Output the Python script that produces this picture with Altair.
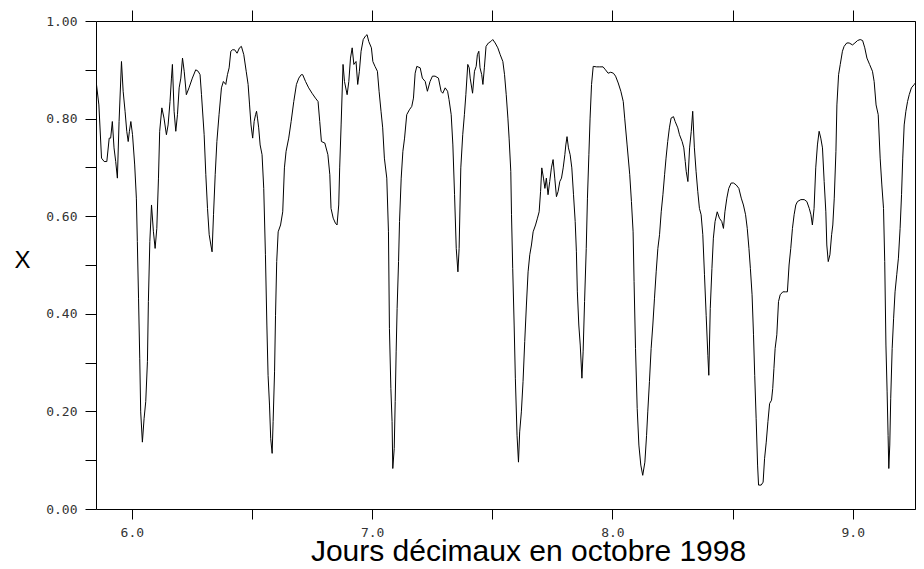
import altair as alt
import pandas as pd

# ---- data (decimal day in Oct 1998, X) ----
seg1_t = [5.853, 5.863, 5.874, 5.885, 5.896, 5.906, 5.912, 5.919, 5.926, 5.933, 5.940, 5.947, 5.957, 5.964,
          5.972, 5.979, 5.985, 5.990, 5.996, 6.003, 6.012, 6.019, 6.023, 6.028, 6.033, 6.037, 6.044, 6.051,
          6.058, 6.065, 6.069, 6.075, 6.082, 6.090, 6.097, 6.104, 6.111, 6.116, 6.125, 6.134, 6.144, 6.151,
          6.159, 6.165, 6.169, 6.176, 6.183, 6.190, 6.197, 6.204, 6.211, 6.218, 6.227, 6.238, 6.252, 6.266,
          6.276, 6.284, 6.290, 6.301, 6.308, 6.315, 6.322, 6.329, 6.334, 6.340, 6.347, 6.354, 6.363, 6.373,
          6.381, 6.391, 6.398, 6.405, 6.412, 6.419]
seg1_x = [0.870, 0.828, 0.719, 0.712, 0.712, 0.760, 0.760, 0.794, 0.740, 0.712, 0.678, 0.794, 0.917, 0.856,
          0.815, 0.774, 0.753, 0.774, 0.794, 0.767, 0.705, 0.637, 0.548, 0.432, 0.309, 0.199, 0.137, 0.185,
          0.220, 0.302, 0.425, 0.548, 0.623, 0.568, 0.534, 0.575, 0.678, 0.774, 0.822, 0.801, 0.767, 0.787,
          0.835, 0.883, 0.911, 0.815, 0.774, 0.808, 0.863, 0.883, 0.924, 0.897, 0.849, 0.863, 0.883, 0.900,
          0.897, 0.890, 0.849, 0.767, 0.685, 0.616, 0.562, 0.541, 0.527, 0.603, 0.685, 0.753, 0.808, 0.863,
          0.876, 0.870, 0.890, 0.904, 0.938, 0.941]

seg2_t = [6.428, 6.438, 6.448, 6.456, 6.466, 6.476, 6.484, 6.490, 6.496, 6.503, 6.509, 6.515, 6.519, 6.523,
          6.528, 6.534, 6.542, 6.549, 6.556, 6.562, 6.567, 6.573, 6.578, 6.584, 6.588, 6.594, 6.598, 6.603,
          6.609, 6.619, 6.628, 6.635, 6.642, 6.653, 6.663, 6.674, 6.685, 6.695, 6.705, 6.711, 6.723, 6.736,
          6.750, 6.764, 6.775, 6.782, 6.789, 6.803, 6.816, 6.824, 6.829, 6.838, 6.847, 6.854, 6.861, 6.865,
          6.871, 6.879, 6.885, 6.896, 6.903, 6.910, 6.917, 6.924, 6.933, 6.940, 6.947, 6.954, 6.963, 6.972,
          6.979, 6.986, 6.997]
seg2_x = [0.941, 0.934, 0.945, 0.948, 0.931, 0.897, 0.870, 0.828, 0.787, 0.760, 0.794, 0.808, 0.815, 0.801,
          0.781, 0.746, 0.726, 0.657, 0.521, 0.377, 0.274, 0.213, 0.144, 0.114, 0.179, 0.281, 0.397, 0.507,
          0.568, 0.582, 0.609, 0.699, 0.733, 0.760, 0.794, 0.835, 0.870, 0.883, 0.890, 0.890, 0.876, 0.863,
          0.852, 0.842, 0.835, 0.794, 0.753, 0.750, 0.726, 0.685, 0.616, 0.596, 0.586, 0.582, 0.623, 0.699,
          0.787, 0.911, 0.876, 0.849, 0.876, 0.924, 0.945, 0.911, 0.917, 0.870, 0.897, 0.938, 0.962, 0.969,
          0.972, 0.958, 0.945]

seg3_t = [7.003, 7.012, 7.022, 7.029, 7.037, 7.044, 7.051, 7.061, 7.068, 7.072, 7.078, 7.083, 7.086, 7.092,
          7.096, 7.100, 7.104, 7.110, 7.114, 7.121, 7.128, 7.135, 7.144, 7.155, 7.165, 7.172, 7.179, 7.186,
          7.200, 7.209, 7.221, 7.230, 7.241, 7.251, 7.262, 7.276, 7.287, 7.294, 7.304, 7.314, 7.320, 7.329,
          7.336, 7.343, 7.350, 7.357, 7.362, 7.369, 7.377, 7.384, 7.390, 7.398, 7.404, 7.408, 7.418, 7.426,
          7.433, 7.438, 7.444, 7.449, 7.456, 7.461, 7.467, 7.474, 7.484, 7.494, 7.502, 7.512, 7.523, 7.533,
          7.544, 7.551, 7.558, 7.565]
seg3_x = [0.917, 0.907, 0.897, 0.856, 0.815, 0.781, 0.719, 0.678, 0.568, 0.370, 0.247, 0.179, 0.083, 0.124,
          0.220, 0.322, 0.411, 0.507, 0.589, 0.678, 0.733, 0.760, 0.808, 0.818, 0.825, 0.842, 0.893, 0.907,
          0.904, 0.883, 0.876, 0.856, 0.876, 0.887, 0.887, 0.883, 0.856, 0.852, 0.863, 0.856, 0.839, 0.808,
          0.746, 0.644, 0.534, 0.486, 0.534, 0.699, 0.767, 0.808, 0.849, 0.911, 0.904, 0.883, 0.852, 0.897,
          0.907, 0.931, 0.938, 0.904, 0.890, 0.870, 0.904, 0.948, 0.955, 0.958, 0.962, 0.955, 0.945, 0.931,
          0.917, 0.890, 0.849, 0.801]

seg4_t = [7.570, 7.577, 7.580, 7.585, 7.591, 7.596, 7.603, 7.609, 7.614, 7.621, 7.628, 7.635, 7.642, 7.649,
          7.656, 7.663, 7.670, 7.680, 7.688, 7.695, 7.701, 7.706, 7.713, 7.719, 7.725, 7.732, 7.739, 7.746,
          7.753, 7.760, 7.767, 7.774, 7.781, 7.788, 7.795, 7.802, 7.806, 7.811, 7.817, 7.824, 7.831, 7.838,
          7.845, 7.850, 7.854, 7.860, 7.866, 7.873, 7.878, 7.884, 7.891, 7.896, 7.902, 7.907, 7.913, 7.920,
          7.934, 7.947, 7.961, 7.971, 7.982, 7.993, 8.004, 8.013, 8.024, 8.035, 8.045, 8.051, 8.061, 8.072,
          8.079, 8.086, 8.090, 8.096, 8.103, 8.110, 8.118, 8.126, 8.135, 8.142]
seg4_x = [0.760, 0.692, 0.603, 0.493, 0.377, 0.268, 0.151, 0.096, 0.158, 0.199, 0.261, 0.343, 0.418, 0.486,
          0.521, 0.541, 0.568, 0.582, 0.596, 0.609, 0.651, 0.699, 0.678, 0.657, 0.678, 0.644, 0.671, 0.699,
          0.716, 0.678, 0.640, 0.651, 0.671, 0.678, 0.699, 0.726, 0.746, 0.763, 0.740, 0.726, 0.699, 0.644,
          0.589, 0.527, 0.445, 0.377, 0.336, 0.268, 0.322, 0.425, 0.534, 0.637, 0.726, 0.801, 0.870, 0.907,
          0.906, 0.906, 0.906, 0.900, 0.893, 0.895, 0.893, 0.887, 0.873, 0.856, 0.835, 0.801, 0.746, 0.685,
          0.630, 0.568, 0.466, 0.329, 0.206, 0.131, 0.090, 0.069, 0.096, 0.151]

seg5_t = [8.147, 8.154, 8.161, 8.168, 8.175, 8.182, 8.189, 8.196, 8.203, 8.210, 8.217, 8.223, 8.230, 8.237,
          8.244, 8.254, 8.261, 8.272, 8.279, 8.290, 8.297, 8.303, 8.307, 8.314, 8.321, 8.328, 8.334, 8.341,
          8.348, 8.355, 8.362, 8.369, 8.376, 8.383, 8.390, 8.397, 8.401, 8.407, 8.414, 8.420, 8.427, 8.436,
          8.445, 8.455, 8.462, 8.468, 8.476, 8.484, 8.494, 8.504, 8.515, 8.526, 8.536, 8.545, 8.554, 8.561,
          8.568, 8.574, 8.581, 8.587, 8.592, 8.598, 8.604, 8.608, 8.619, 8.627, 8.633, 8.640, 8.647, 8.654,
          8.662, 8.667, 8.672, 8.677, 8.684, 8.691, 8.698, 8.709, 8.720]
seg5_x = [0.199, 0.261, 0.329, 0.377, 0.432, 0.486, 0.534, 0.562, 0.609, 0.644, 0.685, 0.719, 0.753, 0.781,
          0.801, 0.804, 0.794, 0.781, 0.767, 0.753, 0.740, 0.712, 0.692, 0.671, 0.740, 0.774, 0.815, 0.740,
          0.692, 0.651, 0.616, 0.603, 0.562, 0.480, 0.397, 0.315, 0.274, 0.411, 0.493, 0.555, 0.589, 0.609,
          0.596, 0.589, 0.575, 0.609, 0.637, 0.657, 0.668, 0.668, 0.664, 0.657, 0.637, 0.623, 0.603, 0.575,
          0.534, 0.493, 0.439, 0.357, 0.274, 0.185, 0.090, 0.049, 0.049, 0.055, 0.103, 0.137, 0.179, 0.216,
          0.223, 0.247, 0.288, 0.329, 0.357, 0.425, 0.439, 0.445, 0.445]

seg6_t = [8.728, 8.735, 8.742, 8.749, 8.756, 8.763, 8.770, 8.784, 8.798, 8.809, 8.819, 8.826, 8.832, 8.839,
          8.846, 8.853, 8.860, 8.867, 8.874, 8.881, 8.888, 8.892, 8.898, 8.905, 8.912, 8.917, 8.923, 8.930,
          8.934, 8.941, 8.948, 8.957, 8.964, 8.975, 8.985, 8.999, 9.009, 9.020, 9.031, 9.041, 9.050, 9.059,
          9.070, 9.082, 9.089, 9.097, 9.106, 9.114, 9.121, 9.128, 9.133, 9.138, 9.143, 9.147, 9.150, 9.154,
          9.158, 9.164, 9.170, 9.176, 9.183, 9.190, 9.197, 9.203, 9.208, 9.214, 9.221, 9.228, 9.235, 9.244,
          9.256, 9.265, 9.272, 9.281, 9.287, 9.292]
seg6_x = [0.445, 0.500, 0.534, 0.575, 0.603, 0.623, 0.630, 0.634, 0.634, 0.630, 0.616, 0.603, 0.582, 0.616,
          0.699, 0.746, 0.774, 0.760, 0.740, 0.671, 0.609, 0.541, 0.507, 0.521, 0.562, 0.582, 0.637, 0.733,
          0.828, 0.890, 0.911, 0.938, 0.948, 0.955, 0.955, 0.951, 0.955, 0.960, 0.962, 0.960, 0.945, 0.924,
          0.911, 0.897, 0.876, 0.828, 0.808, 0.719, 0.664, 0.616, 0.507, 0.336, 0.240, 0.151, 0.083, 0.131,
          0.227, 0.329, 0.391, 0.445, 0.480, 0.514, 0.575, 0.644, 0.719, 0.787, 0.815, 0.835, 0.849, 0.863,
          0.870, 0.876, 0.880, 0.897, 0.917, 0.930]

x_domain = [5.851, 9.259]
y_domain = [0.0, 1.0]
x_tick_values = [6.0, 6.5, 7.0, 7.5, 8.0, 8.5, 9.0]
y_tick_values = [0.0, 0.1, 0.2, 0.3, 0.4, 0.5, 0.6, 0.7, 0.8, 0.9, 1.0]
x_title = "Jours décimaux en octobre 1998"
y_title = "X"

t_all = seg1_t + seg2_t + seg3_t + seg4_t + seg5_t + seg6_t
x_all = seg1_x + seg2_x + seg3_x + seg4_x + seg5_x + seg6_x
df = pd.DataFrame({"t": t_all, "x": x_all})

x_scale = alt.Scale(domain=x_domain, nice=False, zero=False)
y_scale = alt.Scale(domain=y_domain, nice=False, zero=True)

LABEL_FONT = "DejaVu Sans Mono"
TITLE_FONT = "Liberation Sans"

main = alt.Chart(df).mark_line(color="black", strokeWidth=1, clip=True).encode(
    x=alt.X("t:Q", scale=x_scale, axis=alt.Axis(
        orient="bottom", values=x_tick_values,
        labelExpr="datum.value % 1 == 0 ? format(datum.value, '.1f') : ''",
        tickSize=10, labelPadding=7, labelFont=LABEL_FONT, labelFontSize=13,
        labelColor="#333333", labelFlush=False,
        title=x_title, titleFont=TITLE_FONT, titleFontSize=30, titleFontWeight="normal",
        titleColor="black", titleX=432, titleY=51, titleAlign="center",
        titleBaseline="alphabetic")),
    y=alt.Y("x:Q", scale=y_scale, axis=alt.Axis(
        orient="left", values=y_tick_values,
        labelExpr="round(datum.value * 10) % 2 == 0 ? format(datum.value, '.2f') : ''",
        tickSize=11, labelPadding=8, labelFont=LABEL_FONT, labelFontSize=13,
        labelColor="#333333", labelFlush=False,
        title=y_title, titleFont=TITLE_FONT, titleFontSize=24, titleFontWeight="normal",
        titleColor="black", titleAngle=0, titleX=-74, titleY=239, titleAlign="center",
        titleBaseline="middle")),
)

frame = alt.Chart(df).mark_line(opacity=0, clip=True).encode(
    x=alt.X("t:Q", scale=x_scale, axis=alt.Axis(
        orient="top", values=x_tick_values, labels=False, tickSize=11, title=None)),
    y=alt.Y("x:Q", scale=y_scale, axis=alt.Axis(
        orient="right", values=y_tick_values, labels=False, tickSize=11, title=None)),
)

chart = alt.layer(main, frame).resolve_axis(x="independent", y="independent").properties(
    width=819, height=488,
    padding={"left": 88, "top": 13, "right": 1, "bottom": 52},
    autosize=alt.AutoSizeParams(type="none"),
    background="white",
).configure_axis(
    grid=False, domainColor="black", domainWidth=1, tickColor="black", tickWidth=1,
).configure_view(stroke=None)

chart.save("out.html", embed_options={"renderer": "svg", "actions": False})
